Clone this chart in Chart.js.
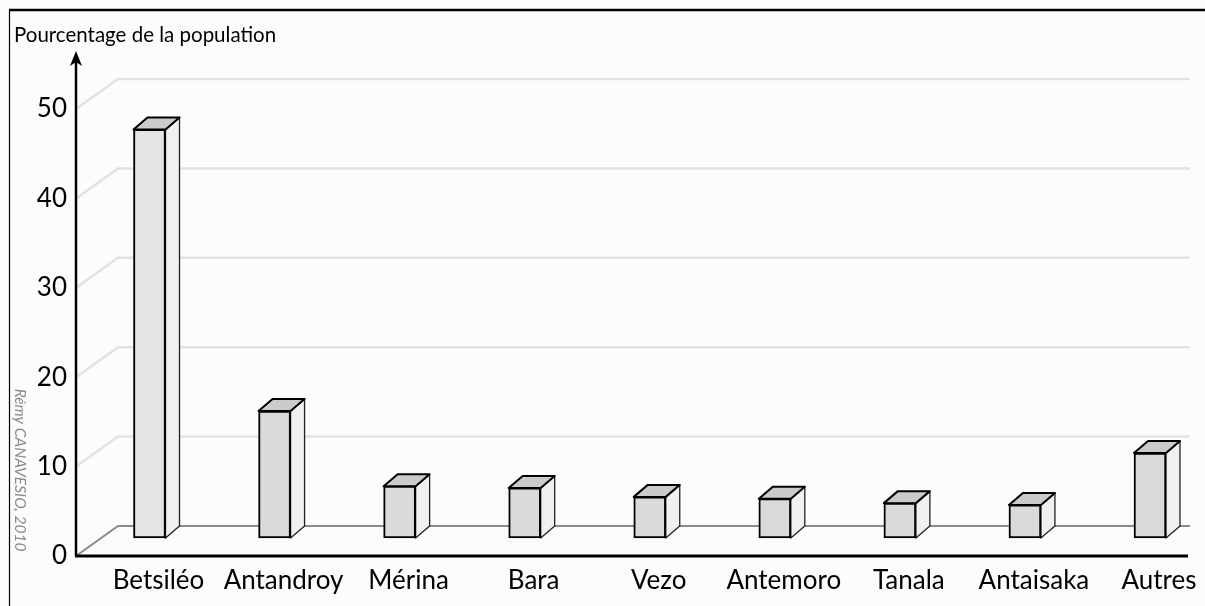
<!DOCTYPE html>
<html lang="fr">
<head>
<meta charset="utf-8">
<title>Pourcentage de la population</title>
<script src="https://cdn.jsdelivr.net/npm/chart.js@4/dist/chart.umd.min.js"></script>
<style>
  html, body { margin: 0; padding: 0; background: #ffffff; }
  #chart { display: block; }
</style>
</head>
<body>
<canvas id="chart" width="1205" height="606"></canvas>
<script>
// valeurs (en %)
const categories = ['Betsiléo', 'Antandroy', 'Mérina', 'Bara', 'Vezo', 'Antemoro', 'Tanala', 'Antaisaka', 'Autres'];
const shares = [45.7, 14.2, 5.8, 5.6, 4.6, 4.4, 3.9, 3.7, 9.5];
const yTicks = [0, 10, 20, 30, 40, 50];
const frontColors = ['#e4e4e4', '#dadada', '#dadada', '#dadada', '#dadada', '#dadada', '#dadada', '#dadada', '#dadada'];

const FONT = 'Lato, "Open Sans", sans-serif';
// décalage du plan avant (axes) et profondeur des barres
const AXIS_DX = -42, AXIS_DY = 30;
const BAR_DX = 14, BAR_DY = 12;

const pseudo3d = {
  id: 'pseudo3d',
  beforeDraw(chart) {
    const ctx = chart.ctx;
    ctx.save();
    ctx.fillStyle = '#fcfcfc';
    ctx.fillRect(0, 0, chart.width, chart.height);
    // cadre
    ctx.strokeStyle = '#000';
    ctx.lineWidth = 2.5;
    ctx.beginPath();
    ctx.moveTo(9, 10);
    ctx.lineTo(chart.width, 10);
    ctx.stroke();
    ctx.lineWidth = 1.2;
    ctx.beginPath();
    ctx.moveTo(9.5, 10);
    ctx.lineTo(9.5, chart.height);
    ctx.stroke();
    // titre de l'axe
    ctx.fillStyle = '#000';
    ctx.font = '20.5px ' + FONT;
    ctx.textBaseline = 'middle';
    ctx.textAlign = 'left';
    ctx.fillText('Pourcentage de la population', 14, 35);
    // source
    ctx.translate(20, 470);
    ctx.rotate(Math.PI / 2);
    ctx.fillStyle = '#8c8c8c';
    ctx.font = 'italic 15.5px ' + FONT;
    ctx.textAlign = 'center';
    ctx.fillText('Rémy CANAVESIO, 2010', 0, 0);
    ctx.restore();
  },
  beforeDatasetsDraw(chart) {
    const ctx = chart.ctx;
    const area = chart.chartArea;
    const yScale = chart.scales.y;
    const backLeft = area.left - 45.5;
    const backRight = area.right + 26;
    ctx.save();
    // lignes de la grille (paroi du fond + diagonales)
    yScale.ticks.forEach((t) => {
      const py = yScale.getPixelForValue(t.value);
      ctx.strokeStyle = t.value === 0 ? '#8a8a8a' : '#e2e2e2';
      ctx.lineWidth = t.value === 0 ? 2 : 2.5;
      ctx.beginPath();
      ctx.moveTo(backLeft + AXIS_DX, py + AXIS_DY);
      ctx.lineTo(backLeft, py);
      ctx.lineTo(backRight, py);
      ctx.stroke();
    });
    // axes avant
    const x0 = backLeft + AXIS_DX;
    const y0 = yScale.getPixelForValue(0) + AXIS_DY;
    const yTop = yScale.getPixelForValue(50) - 26;
    ctx.strokeStyle = '#000';
    ctx.lineWidth = 3;
    ctx.beginPath();
    ctx.moveTo(x0 - 1, y0);
    ctx.lineTo(backRight - 2, y0);
    ctx.stroke();
    ctx.lineWidth = 2.5;
    ctx.beginPath();
    ctx.moveTo(x0, y0);
    ctx.lineTo(x0, yTop + 8);
    ctx.stroke();
    ctx.fillStyle = '#000';
    ctx.beginPath();
    ctx.moveTo(x0, yTop - 2);
    ctx.lineTo(x0 - 6, yTop + 13);
    ctx.lineTo(x0, yTop + 9);
    ctx.lineTo(x0 + 6, yTop + 13);
    ctx.closePath();
    ctx.fill();

    // faces latérales et dessus des barres
    const meta = chart.getDatasetMeta(0);
    meta.data.forEach((bar) => {
      const p = bar.getProps(['x', 'y', 'base', 'width'], true);
      const L = p.x - p.width / 2 - BAR_DX;
      const R = p.x + p.width / 2 - BAR_DX;
      const T = p.y + BAR_DY;
      const B = p.base + BAR_DY;
      ctx.fillStyle = '#f0f0f0';
      ctx.strokeStyle = '#222';
      ctx.lineWidth = 1.3;
      ctx.beginPath();
      ctx.moveTo(R, T);
      ctx.lineTo(R + BAR_DX, T - BAR_DY);
      ctx.lineTo(R + BAR_DX, B - BAR_DY);
      ctx.lineTo(R, B);
      ctx.closePath();
      ctx.fill();
      ctx.stroke();
      ctx.fillStyle = '#cbcbcb';
      ctx.strokeStyle = '#000';
      ctx.lineWidth = 2;
      ctx.lineJoin = 'round';
      ctx.beginPath();
      ctx.moveTo(L, T);
      ctx.lineTo(L + BAR_DX, T - BAR_DY);
      ctx.lineTo(R + BAR_DX, T - BAR_DY);
      ctx.lineTo(R, T);
      ctx.closePath();
      ctx.fill();
      ctx.stroke();
    });
    // la face avant est dessinée par Chart.js, décalée vers l'avant
    ctx.translate(-BAR_DX, BAR_DY);
  },
  afterDatasetsDraw(chart) {
    chart.ctx.restore();
  },
};

const data = {
  labels: categories,
  datasets: [
    {
      label: 'Pourcentage de la population',
      data: shares,
      backgroundColor: frontColors,
      borderColor: '#000',
      borderWidth: 2,
      borderSkipped: false,
      barThickness: 32,
      clip: false,
    },
  ],
};

function noOverhang(scale) {
  scale.paddingLeft = 0;
  scale.paddingRight = 0;
  scale.paddingTop = 0;
  scale.paddingBottom = 0;
}

const config = {
  type: 'bar',
  data: data,
  options: {
    responsive: false,
    animation: false,
    layout: { padding: { top: 79, right: 41, bottom: 0, left: 0 } },
    plugins: {
      legend: { display: false },
      tooltip: { enabled: false },
    },
    scales: {
      x: {
        offset: false,
        grid: { display: false, drawTicks: false },
        border: { display: false },
        afterFit: (scale) => {
          scale.height = 80;
          noOverhang(scale);
        },
        ticks: {
          autoSkip: false,
          maxRotation: 0,
          padding: 39,
          labelOffset: -5,
          color: '#000',
          font: { family: FONT, size: 26 },
        },
      },
      y: {
        min: 0,
        max: 50,
        grid: { display: false, drawTicks: false },
        border: { display: false },
        afterFit: (scale) => {
          scale.width = 163.5;
          noOverhang(scale);
        },
        afterBuildTicks: (scale) => { scale.ticks = yTicks.map((v) => ({ value: v })); },
        ticks: {
          padding: 96.5,
          labelOffset: 30,
          color: '#000',
          font: { family: FONT, size: 26 },
        },
      },
    },
  },
  plugins: [pseudo3d],
};

const myChart = new Chart(document.getElementById('chart'), config);
</script>
</body>
</html>
